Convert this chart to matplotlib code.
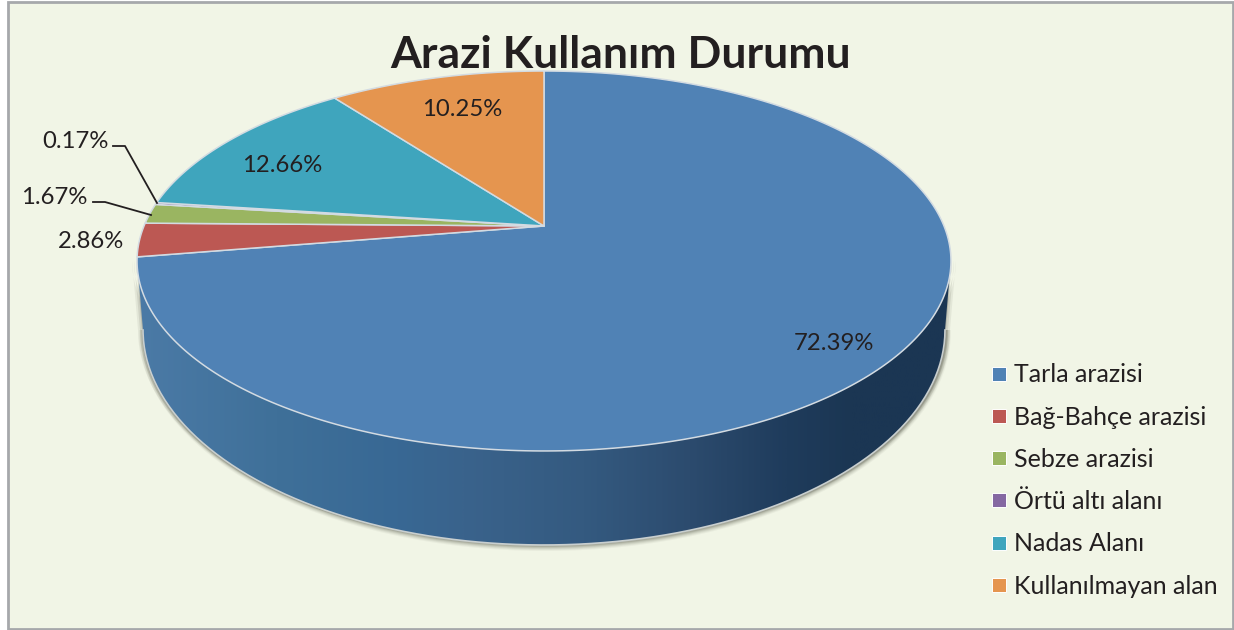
import numpy as np
import matplotlib
matplotlib.use("Agg")
import matplotlib.pyplot as plt
from matplotlib.colors import LinearSegmentedColormap
from matplotlib.lines import Line2D
from matplotlib.patches import Ellipse, PathPatch, Rectangle
from matplotlib.path import Path

plt.rcParams['font.family'] = ['Lato', 'DejaVu Sans']

categories = ['Tarla arazisi', 'Bağ-Bahçe arazisi', 'Sebze arazisi',
              'Örtü altı alanı', 'Nadas Alanı', 'Kullanılmayan alan']
values = [72.39, 2.86, 1.67, 0.17, 12.66, 10.25]
colors = ['#5082b5', '#bc5853', '#9ab561', '#8568a2', '#3fa5bd', '#e5954f']

BG = '#f1f5e6'
INK = '#231f20'
EDGE = '#d3dbe2'

# tilted disc: unit circle seen in perspective, centre lands on the apex
CX, APEX_Y = 544, 226
PERSP, V_SCALE, U_SCALE = 0.1842, -141.9, 400.0
# lower rim of the side wall
LOW_CY, LOW_RX, LOW_RY = 330, 401, 215


def project(deg):
    a = np.radians(deg)
    u, v = np.sin(a), np.cos(a)
    d = PERSP * v + 1
    return CX + U_SCALE * u / d, (V_SCALE * v + APEX_Y) / d


fig = plt.figure(figsize=(12.34, 6.30), dpi=100, facecolor='white')
ax = fig.add_axes([0, 0, 1, 1])
ax.set_xlim(0, 1234)
ax.set_ylim(630, 0)
ax.axis('off')

ax.add_patch(Rectangle((8, 2), 1225, 627, fc=BG, ec='#a6a8ab', lw=2, zorder=0))

# rim of the disc between the two widest points, front side
front = np.linspace(100.5, 259.5, 200)
rx_top, ry_top = project(front)
low_t = np.radians(np.linspace(0, 180, 200))
low_x = CX + LOW_RX * np.cos(low_t)
low_y = LOW_CY + LOW_RY * np.sin(low_t)
wall_x = np.r_[rx_top, low_x[::-1]]
wall_y = np.r_[ry_top, low_y[::-1]]

# soft shadow under the wall
for grow, alpha in [(5, 0.05), (4, 0.07), (3, 0.09), (2, 0.12), (1, 0.16)]:
    ax.add_patch(Ellipse((CX + 1, LOW_CY + 1), 2 * LOW_RX + 2 * grow,
                         2 * LOW_RY + 2 * grow, fc='#4a4a3c', ec='none',
                         alpha=alpha, zorder=1))
ax.add_patch(Rectangle((120, 200), 840, LOW_CY - 200, fc=BG, ec='none', zorder=1.1))
for grow, alpha in [(5, 0.08), (3, 0.12), (1, 0.2)]:
    ax.fill(wall_x + np.where(wall_x > CX, grow, -grow), wall_y, fc='#4a4a3c',
            ec='none', alpha=alpha, zorder=1.2)

wall_cmap = LinearSegmentedColormap.from_list('wall', [
    (0.00, '#4b7aa6'), (0.17, '#3f7099'), (0.32, '#386894'), (0.40, '#3a638c'),
    (0.55, '#345a80'), (0.68, '#2c4b6e'), (0.80, '#1f3c5c'), (0.88, '#1b3653'),
    (1.00, '#1b3653')])
wall_path = Path(np.c_[wall_x, wall_y])
grad = ax.imshow(np.linspace(0, 1, 400)[None, :], cmap=wall_cmap, aspect='auto',
                 extent=(137, 951, 560, 250), zorder=2)
grad.set_clip_path(PathPatch(wall_path, transform=ax.transData))
ax.set_xlim(0, 1234)
ax.set_ylim(630, 0)
ax.plot(low_x, low_y, color='#c9cfcf', lw=1.2, zorder=2.5)

# top face
start = 0.0
for val, col in zip(values, colors):
    end = start + val * 3.6
    xs, ys = project(np.linspace(start, end, 300))
    ax.fill(np.r_[CX, xs], np.r_[APEX_Y, ys], fc=col, ec=EDGE, lw=1.1,
            joinstyle='round', zorder=3)
    start = end

# labels
label_pos = [(834, 344), (91, 242), (54, 198), (75, 142), (282, 166), (462, 110)]
for val, (lx, ly) in zip(values, label_pos):
    ax.text(lx, ly, f'{val:.2f}%', fontsize=17.2, color=INK, ha='center',
            va='center', zorder=5)

ax.plot([113, 125, 157], [146, 146, 203], color=INK, lw=1.3, zorder=5)
ax.plot([93, 105, 151], [202, 202, 215], color=INK, lw=1.3, zorder=5)

ax.text(620.5, 55, 'Arazi Kullanım Durumu', fontsize=32, fontweight='bold',
        color=INK, ha='center', va='center', zorder=6)

handles = [Line2D([], [], ls='none', marker='s', ms=9.5, mfc=c, mec='white', mew=0.7)
           for c in colors]
ax.legend(handles, categories, loc='center left', bbox_to_anchor=(983 / 1234, 1 - 480.5 / 630),
          frameon=False, fontsize=18, labelspacing=0.77, handletextpad=0.0,
          handlelength=1.25, borderpad=0, borderaxespad=0, labelcolor=INK)

fig.savefig('out.png', dpi=100, facecolor='white')
